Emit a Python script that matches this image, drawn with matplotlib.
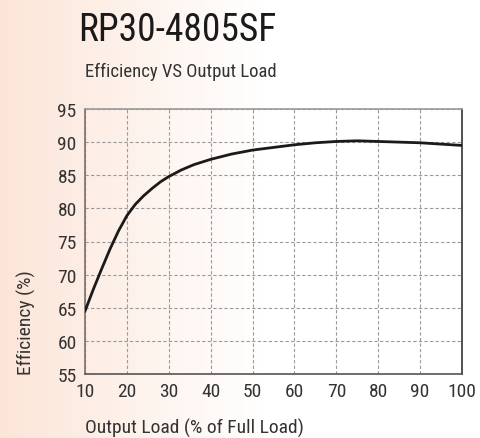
import numpy as np
import matplotlib
matplotlib.use("Agg")
import matplotlib.pyplot as plt

# efficiency curve
load = [10, 12, 14, 16, 18, 20, 22, 24, 26, 28, 30, 33, 36, 40, 45, 50, 55, 60, 65, 70, 75, 80, 85, 90, 95, 100]
efficiency = [64.5, 67.8, 70.9, 73.9, 76.6, 78.9, 80.6, 81.9, 83.0, 84.0, 84.8, 85.8, 86.6, 87.4, 88.2, 88.8, 89.2, 89.6, 89.9, 90.1, 90.2, 90.1, 90.0, 89.9, 89.7, 89.5]

xticks = [10, 20, 30, 40, 50, 60, 70, 80, 90, 100]
yticks = [55, 60, 65, 70, 75, 80, 85, 90, 95]

plt.rcParams['font.family'] = ['Roboto Condensed', 'DejaVu Sans']

fig = plt.figure(figsize=(4.81, 4.39), dpi=100)

# peach to white background gradient
bg = fig.add_axes([0, 0, 1, 1], zorder=-10)
xs = np.linspace(0, 1, 481)
t = np.clip(xs / 0.55, 0, 1)
start = np.array([252, 229, 216]) / 255.0
grad = start[None, :] * (1 - t[:, None]) + np.ones(3)[None, :] * t[:, None]
bg.imshow(grad[None, :, :], aspect='auto', extent=[0, 1, 0, 1])
bg.axis('off')

ax = fig.add_axes([85 / 481, 1 - 375 / 439, 377 / 481, 265 / 439])
ax.set_facecolor('none')
ax.plot(load, efficiency, color='#1a1a1a', lw=2, zorder=3)
ax.set_xlim(10, 100)
ax.set_ylim(55, 95)
ax.set_xticks(xticks)
ax.set_yticks(yticks)
ax.tick_params(length=0, labelsize=14, colors='#333333', pad=6)
ax.grid(True, color='#9a9a9a', linestyle=(0, (3, 2)), linewidth=0.8)

ax.spines['top'].set_color('#9a9a9a')
ax.spines['left'].set_color('#7a706c')
ax.spines['bottom'].set_color('#555555')
ax.spines['right'].set_color('#333333')
for s in ax.spines.values():
    s.set_linewidth(1.2)

fig.text(78 / 481, 1 - 41 / 439, 'RP30-4805SF', fontsize=27, color='#1a1a1a')
fig.text(85 / 481, 1 - 77 / 439, 'Efficiency VS Output Load', fontsize=13.5, color='#333333')
fig.text(85 / 481, 1 - 434 / 439, 'Output Load (% of Full Load)', fontsize=14, color='#333333')
fig.text(17 / 481, 1 - 375 / 439, 'Efficiency (%)', fontsize=14, color='#333333',
         rotation=90, va='bottom', ha='left')

fig.savefig('out.png', dpi=100)
